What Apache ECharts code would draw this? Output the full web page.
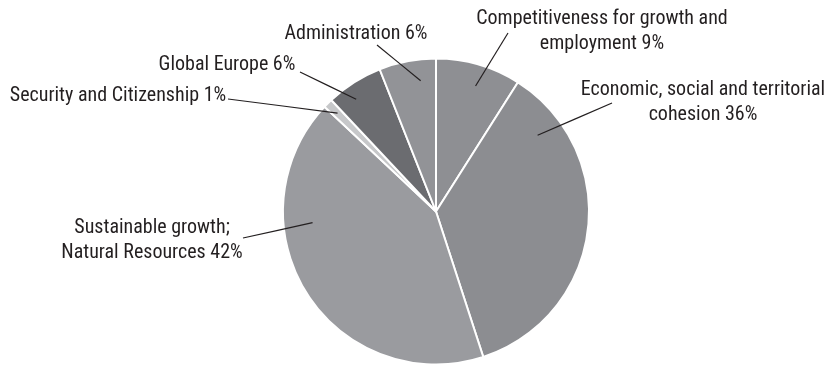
<!DOCTYPE html>
<html>
<head>
<meta charset="utf-8">
<script src="https://cdn.jsdelivr.net/npm/echarts@6/dist/echarts.min.js"></script>
<style>
  html, body { margin: 0; padding: 0; background: #fff; }
  #chart { width: 829px; height: 369px; }
</style>
</head>
<body>
<div id="chart"></div>
<script>
// Budget headings, clockwise from twelve o'clock
const categories = [
  'Competitiveness for growth and\nemployment',
  'Economic, social and territorial\ncohesion',
  'Sustainable growth;\nNatural Resources',
  'Security and Citizenship',
  'Global Europe',
  'Administration'
];
// Share of the budget, percent
const shares = [9, 36, 42, 1, 6, 6];

// Grey fill per heading
const sliceColors = ['#8e8f93', '#8c8d91', '#9a9b9f', '#c6c7c9', '#6b6c70', '#929397'];

// Label placement: [text centre x, text centre y, leader tail x, leader tail y]
const labelSpots = [
  [602, 31, 508, 33],
  [703, 102, 612, 103],
  [152, 240, 243, 238],
  [118, 96, 228, 99],
  [227, 65, 300, 72],
  [356, 34, 377, 45]
];
// Where each leader meets its slice: [fraction of the sweep, fraction of the radius]
const leaderAnchors = [
  [0.54, 0.86],
  [0.16, 0.83],
  [0.68, 0.81],
  [0.50, 0.91],
  [0.36, 0.90],
  [0.69, 0.86]
];

const PIE_CENTER = [436, 211.5];
const PIE_RADIUS = 153;

const chart = echarts.init(document.getElementById('chart'), null, { renderer: 'canvas' });

const pieData = categories.map((name, i) => ({
  name: name,
  value: shares[i],
  itemStyle: { color: sliceColors[i] }
}));

// Same slices, unfilled, carrying the labels and leaders so they sit above the fills
const labelData = categories.map((name, i) => ({ name: name, value: shares[i] }));

chart.setOption({
  animation: false,
  backgroundColor: '#ffffff',
  series: [
    {
      type: 'pie',
      center: PIE_CENTER,
      radius: PIE_RADIUS,
      startAngle: 90,
      clockwise: true,
      data: pieData,
      itemStyle: { borderColor: '#ffffff', borderWidth: 2 },
      label: { show: false },
      labelLine: { show: false },
      emphasis: { disabled: true },
      silent: true
    },
    {
      type: 'pie',
      z: 5,
      center: PIE_CENTER,
      radius: PIE_RADIUS,
      startAngle: 90,
      clockwise: true,
      avoidLabelOverlap: false,
      percentPrecision: 0,
      data: labelData,
      silent: true,
      itemStyle: { color: 'rgba(0,0,0,0)', borderWidth: 0 },
      label: {
        show: true,
        position: 'outside',
        formatter: '{b} {d}%',
        fontFamily: "'Roboto Condensed', 'Open Sans', sans-serif",
        fontSize: 20,
        lineHeight: 25,
        color: '#231f20',
        align: 'center'
      },
      labelLine: {
        show: true,
        length: 10,
        length2: 10,
        smooth: false,
        lineStyle: { color: '#231f20', width: 1.2 }
      },
      emphasis: { disabled: true },
      labelLayout: function (p) {
        const i = p.dataIndex;
        const spot = labelSpots[i];
        const anchor = leaderAnchors[i];
        const lay = chart.getModel().getSeriesByIndex(1).getData().getItemLayout(i);
        const a = lay.startAngle + anchor[0] * (lay.endAngle - lay.startAngle);
        const ax = lay.cx + anchor[1] * lay.r * Math.cos(a);
        const ay = lay.cy + anchor[1] * lay.r * Math.sin(a);
        return {
          x: spot[0],
          y: spot[1],
          align: 'center',
          verticalAlign: 'middle',
          labelLinePoints: [
            [spot[2], spot[3]],
            [(spot[2] + ax) / 2, (spot[3] + ay) / 2],
            [ax, ay]
          ]
        };
      }
    }
  ]
});
</script>
</body>
</html>
